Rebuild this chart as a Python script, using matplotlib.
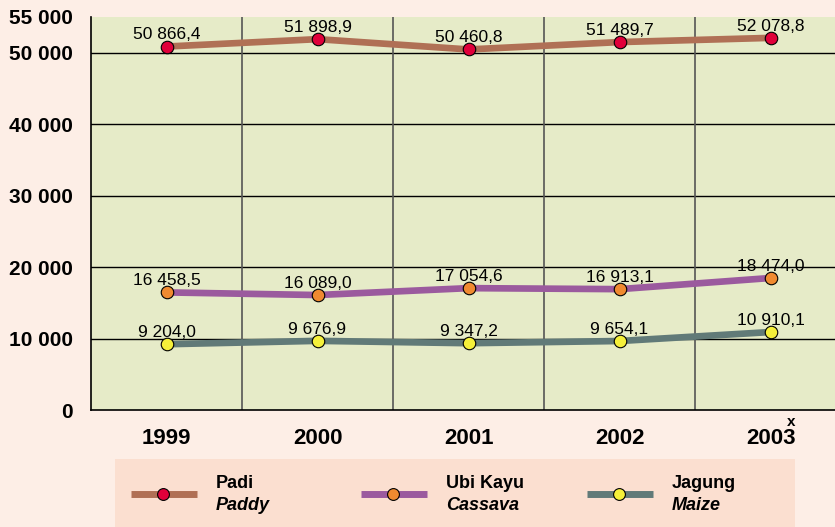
import matplotlib.pyplot as plt
from matplotlib.patches import Rectangle
from matplotlib.lines import Line2D

plt.rcParams['font.family'] = ['Liberation Sans', 'DejaVu Sans']

years = ['1999', '2000', '2001', '2002', '2003']
padi = [50866.4, 51898.9, 50460.8, 51489.7, 52078.8]
ubi_kayu = [16458.5, 16089.0, 17054.6, 16913.1, 18474.0]
jagung = [9204.0, 9676.9, 9347.2, 9654.1, 10910.1]
yticks = [0, 10000, 20000, 30000, 40000, 50000, 55000]

series = [
    ('Padi', 'Paddy', padi, '#b07055', '#e0003a'),
    ('Ubi Kayu', 'Cassava', ubi_kayu, '#9b5a9e', '#f08a30'),
    ('Jagung', 'Maize', jagung, '#617a78', '#f5f03a'),
]

def fmt(v):
    s = '{:,.1f}'.format(v)
    return s.replace(',', ' ').replace('.', ',')

W, H = 835, 527
fig = plt.figure(figsize=(W / 100, H / 100), dpi=100)
fig.patch.set_facecolor('#fdeee6')

# plot area runs past the right edge of the picture
ax = fig.add_axes([91 / W, 1 - 410 / H, 755 / W, 393 / H])
ax.set_facecolor('#e6ebc8')
xs = list(range(len(years)))
ax.set_xlim(-0.5, len(years) - 0.5)
ax.set_ylim(0, 55000)

for y in yticks[1:-1]:
    ax.axhline(y, color='black', lw=1, zorder=1)
for x in xs[:-1]:
    ax.axvline(x + 0.5, color='#555555', lw=1.2, zorder=1)

for name, eng, vals, lc, mc in series:
    ax.plot(xs, vals, color=lc, lw=4.8, solid_capstyle='butt', zorder=2)
    ax.plot(xs, vals, 'o', ms=9, mfc=mc, mec='black', mew=0.8, zorder=3)
    for x, v in zip(xs, vals):
        ax.annotate(fmt(v), (x, v), xytext=(0, 3), textcoords='offset points',
                    ha='center', va='bottom', fontsize=12.5, zorder=4)

ax.set_yticks(yticks)
ax.set_yticklabels([fmt(v)[:-2] if v else '0' for v in yticks],
                   fontsize=15, fontweight='bold')
ax.set_xticks(xs)
ax.set_xticklabels(years, fontsize=16, fontweight='bold')
ax.tick_params(length=0)
ax.tick_params(axis='y', pad=13)
ax.tick_params(axis='x', pad=13)
for s in ['top', 'right']:
    ax.spines[s].set_visible(False)
ax.spines['left'].set_linewidth(1.2)
ax.spines['bottom'].set_linewidth(1.2)
fig.text(787 / W, 1 - 422 / H, 'x', fontsize=11, fontweight='bold', ha='left', va='center')

# legend box
fig.patches.append(Rectangle((115 / W, 0), 680 / W, 68 / H, transform=fig.transFigure,
                             facecolor='#fbdfd0', edgecolor='none', zorder=0))
lx = [131, 361, 587]
for (name, eng, vals, lc, mc), x0 in zip(series, lx):
    yl = 1 - 494 / H
    fig.add_artist(Line2D([x0 / W, (x0 + 66) / W], [yl, yl], transform=fig.transFigure,
                          color=lc, lw=5, solid_capstyle='butt'))
    fig.add_artist(Line2D([(x0 + 32) / W], [yl], transform=fig.transFigure, marker='o',
                          ms=8.5, mfc=mc, mec='black', mew=0.8))
    fig.text((x0 + 85) / W, 1 - 484 / H, name, fontsize=13, fontweight='bold',
             ha='left', va='center')
    fig.text((x0 + 85) / W, 1 - 505 / H, eng, fontsize=13, fontweight='bold',
             style='italic', ha='left', va='center')

fig.savefig('out.png', dpi=100, facecolor=fig.get_facecolor())
